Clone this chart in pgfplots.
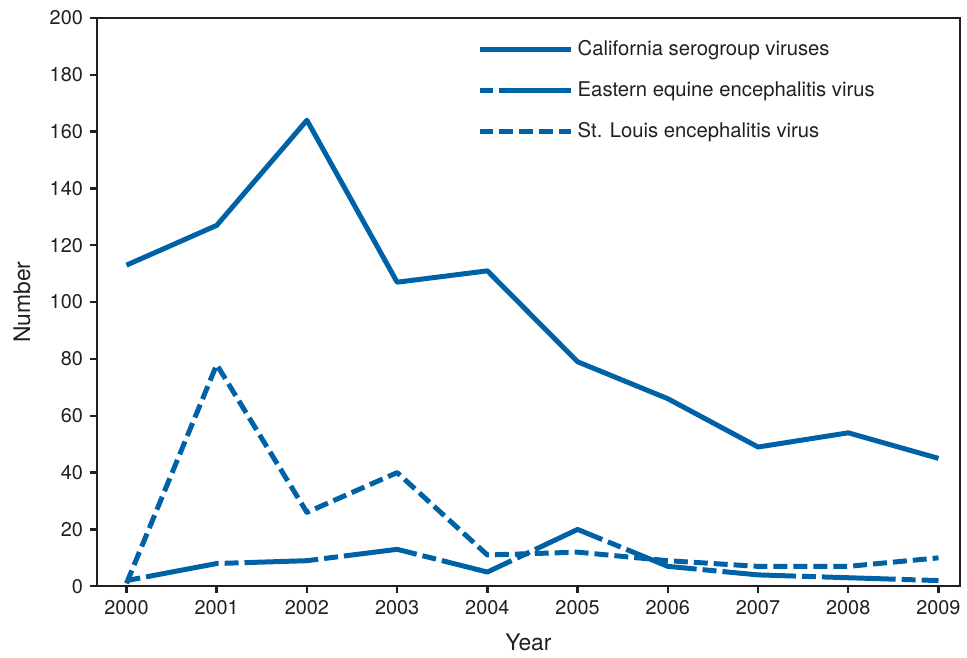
\documentclass[border=0pt]{standalone}
\usepackage{fontspec}
\setmainfont{TeX Gyre Heros}
\usepackage{pgfplots}
\pgfplotsset{compat=1.18}
\definecolor{cdcblue}{RGB}{0,98,166}
\definecolor{axgray}{RGB}{35,31,32}
\begin{document}
\fontsize{9.8}{12}\selectfont
\begin{tikzpicture}
\begin{axis}[
  scale only axis, width=433bp, height=285bp,
  xmin=1999.67, xmax=2009.24, ymin=0, ymax=200,
  xtick={2000,...,2009}, ytick={0,20,...,200},
  /pgf/number format/assume math mode=true,
  xticklabel style={/pgf/number format/1000 sep={}},
  tick align=outside, tick pos=left, major tick length=3.5bp,
  axis line style={line width=1.2bp, color=axgray},
  every tick/.style={line width=1.2bp, color=axgray},
  ticklabel style={color=axgray, font=\fontsize{10}{12}\selectfont},
  xlabel={Year}, ylabel={Number},
  label style={color=axgray, font=\fontsize{11.5}{13}\selectfont},
  xlabel style={yshift=-3bp},
  ylabel style={yshift=3bp},
  legend style={draw=none, fill=none, at={(0.44,0.968)}, anchor=north west,
    font=\fontsize{10.2}{12}\selectfont, text=axgray, row sep=7.6bp, inner sep=0pt},
  legend cell align=left,
  legend image code/.code={\draw[#1] (0bp,0bp) -- (46bp,0bp);},
]
\addplot[cdcblue, no marks, line width=2.5bp, line join=round] coordinates {(2000,113) (2001,127) (2002,164) (2003,107) (2004,111) (2005,79) (2006,66) (2007,49) (2008,54) (2009,45)};
\addlegendentry{California serogroup viruses}
\addplot[cdcblue, no marks, line width=2.5bp, line join=round, dash pattern=on 7bp off 3bp on 37bp off 3bp] coordinates {(2000,2) (2001,8) (2002,9) (2003,13) (2004,5) (2005,20) (2006,7) (2007,4) (2008,3) (2009,2)};
\addlegendentry{Eastern equine encephalitis virus}
\addplot[cdcblue, no marks, line width=2.5bp, line join=round, dash pattern=on 7bp off 3bp] coordinates {(2000,1) (2001,78) (2002,26) (2003,40) (2004,11) (2005,12) (2006,9) (2007,7) (2008,7) (2009,10)};
\addlegendentry{St. Louis encephalitis virus}
\end{axis}
\path ([xshift=-48.5bp,yshift=-35.5bp]current axis.south west) rectangle ([xshift=2bp,yshift=9bp]current axis.north east);
\end{tikzpicture}
\end{document}
